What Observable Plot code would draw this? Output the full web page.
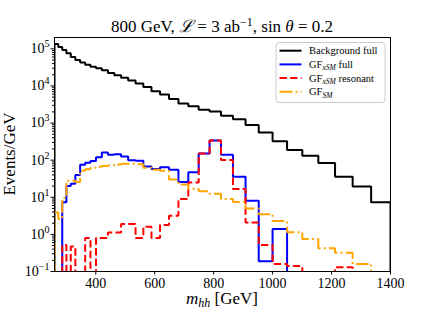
<!DOCTYPE html>
<html><head><meta charset="utf-8">
<script src="https://cdn.jsdelivr.net/npm/d3@7"></script>
<script src="https://cdn.jsdelivr.net/npm/@observablehq/plot@0.6"></script>
<style>
html,body{margin:0;padding:0;background:#fff;}
#chart svg{display:block;}
</style></head><body><div id="chart"></div>
<script>
// Bin edges of m_hh (GeV), 35 bins
const binEdges = [260, 272.8, 286.3, 300.4, 315.2, 330.7, 347.0, 364.1, 382.0, 400.9, 420.6, 441.4, 463.1, 485.9, 509.9, 535.0, 561.4, 589.0, 618.1, 648.5, 680.5, 714.0, 749.2, 786.1, 824.9, 865.5, 908.2, 952.9, 999.9, 1049.1, 1100.8, 1155.1, 1211.9, 1271.6, 1334.3, 1400];
// Events/GeV per bin
const background = [135000, 112000, 93000, 76000, 60000, 50000, 42700, 37200, 33100, 30200, 26300, 22400, 19500, 16600, 14100, 11700, 9300, 7200, 5900, 4470, 3390, 2820, 2290, 2050, 1580, 1260, 890, 560, 321, 188, 132, 84, 36, 19.6, 7.3];
const xsmFull = [0, 0, 7.3, 20, 23, 40, 75, 85, 95, 120, 160, 140, 145, 125, 100, 97, 68, 58, 64, 55, 26, 47, 151, 340, 141, 36, 8.1, 0.19, 1.4, 0, 0, 0, 0, 0, 0];
const xsmResonant = [0, 0, 0.52, 0, 0.47, 0, 0, 0.8, 0, 0.8, 0.8, 1.13, 1.13, 1.9, 1.9, 0.8, 1.6, 0.8, 1.8, 3.2, 9, 25, 151, 340, 101, 16.7, 2.1, 0.52, 0.16, 0.14, 0, 0, 0.13, 0, 0];
const smFull = [3.9, 2.6, 9.5, 28, 28, 26, 52, 57, 62, 66, 70, 73, 77, 80, 80, 78, 62, 55, 52, 30, 22, 17, 14.5, 12.5, 9, 7.5, 5, 3.5, 2.3, 1.15, 0.75, 0.42, 0.32, 0.16, 0];

const xTicks = [400, 600, 800, 1000, 1200, 1400];
const yTicks = [0.1, 1, 10, 100, 1000, 10000, 100000];
const yTickExponents = ["\u22121", "0", "1", "2", "3", "4", "5"];
const legendNames = ["Background full", "GF|xSM| full", "GF|xSM| resonant", "GF|SM|"];

const FONT = "Liberation Serif, DejaVu Serif, serif";
const FLOOR = 1e-4;

function stepPoints(vals) {
  const pts = [{x: binEdges[0], y: FLOOR}];
  vals.forEach((v, i) => pts.push({x: binEdges[i], y: v > 0 ? v : FLOOR}));
  pts.push({x: binEdges[binEdges.length - 1], y: FLOOR});
  return pts;
}

const minorYTicks = [];
for (let k = -1; k <= 5; k++) for (let m = 2; m <= 9; m++) { const v = m * Math.pow(10, k); if (v < 2.0e5) minorYTicks.push(v); }

const styles = [
  {stroke: "#000000", strokeWidth: 2, strokeLinecap: "square", strokeLinejoin: "miter"},
  {stroke: "#0000ff", strokeWidth: 2, strokeLinecap: "square", strokeLinejoin: "miter"},
  {stroke: "#ff0000", strokeWidth: 2, strokeDasharray: "7.4,3.2", strokeLinecap: "butt", strokeLinejoin: "miter"},
  {stroke: "#ffa500", strokeWidth: 2, strokeDasharray: "12.8,3.2,2,3.2", strokeLinecap: "butt", strokeLinejoin: "miter"}
];
const seriesList = [background, xsmFull, xsmResonant, smFull];

const svg = Plot.plot({
  width: 434, height: 310,
  marginLeft: 54, marginRight: 44, marginTop: 37, marginBottom: 39,
  style: {fontFamily: FONT, fontSize: "14px", color: "black", background: "white", overflow: "visible"},
  x: {domain: [260, 1400]},
  y: {type: "log", domain: [0.1, 2.02e5]},
  marks: [
    ...seriesList.map((s, i) => Plot.line(stepPoints(s), {x: "x", y: "y", curve: "step-after", clip: true, ...styles[i]})),
    Plot.axisX({ticks: xTicks, tickSize: 3.5, tickPadding: 3, tickFormat: d => String(d), label: null, fontSize: 14, fontFamily: FONT}),
    Plot.axisY({ticks: yTicks, tickSize: 3.5, tickFormat: () => "", label: null}),
    Plot.axisY({ticks: minorYTicks, tickSize: 2, tickFormat: () => "", label: null}),
    Plot.frame({stroke: "black", strokeWidth: 1})
  ]
});
document.getElementById("chart").appendChild(svg);

const root = d3.select(svg);
const ys = svg.scale("y");
const xs = svg.scale("x");

function addText(attrs) {
  const t = root.append("text").attr("font-family", FONT).attr("fill", "black");
  for (const k in attrs) t.attr(k, attrs[k]);
  return t;
}

// y tick labels 10^k
yTicks.forEach((v, i) => {
  const t = addText({x: 49.5, y: ys.apply(v), "text-anchor": "end", dy: "0.35em", "font-size": 14});
  t.append("tspan").text("10");
  t.append("tspan").attr("font-size", 10).attr("dy", "-0.6em").text(yTickExponents[i]);
});

const cx = (xs.apply(260) + xs.apply(1400)) / 2;

// title
{
  const t = addText({x: cx, y: 31.5, "text-anchor": "middle", "font-size": 17});
  t.append("tspan").text("800 GeV, ");
  t.append("tspan").attr("font-style", "italic").text("\u2112");
  t.append("tspan").text(" = 3 ab");
  t.append("tspan").attr("font-size", 12).attr("dy", -6).text("\u22121");
  t.append("tspan").attr("dy", 6).text(", sin ");
  t.append("tspan").attr("font-style", "italic").text("\u03b8");
  t.append("tspan").text(" = 0.2");
}

// x label
{
  const t = addText({x: cx, y: 304, "text-anchor": "middle", "font-size": 17});
  t.append("tspan").attr("font-style", "italic").text("m");
  t.append("tspan").attr("font-style", "italic").attr("font-size", 12).attr("dy", 3).text("hh");
  t.append("tspan").attr("dy", -3).text(" [GeV]");
}

// y label
{
  const cy = (ys.apply(0.1) + ys.apply(2.02e5)) / 2;
  addText({transform: `translate(15,${cy}) rotate(-90)`, "text-anchor": "middle", "font-size": 17}).text("Events/GeV");
}

// legend
{
  const g = root.append("g");
  g.append("rect").attr("x", 276).attr("y", 42.5).attr("width", 109).attr("height", 60).attr("rx", 3)
    .attr("fill", "white").attr("fill-opacity", 0.8).attr("stroke", "#cccccc").attr("stroke-width", 1);
  legendNames.forEach((name, i) => {
    const yy = 50.7 + i * 13.7;
    const st = styles[i];
    g.append("line").attr("x1", 279.5).attr("x2", 301.5).attr("y1", yy).attr("y2", yy)
      .attr("stroke", st.stroke).attr("stroke-width", st.strokeWidth)
      .attr("stroke-dasharray", st.strokeDasharray || null).attr("stroke-linecap", "butt");
    const t = g.append("text").attr("x", 309).attr("y", yy).attr("dy", "0.33em").attr("text-anchor", "start")
      .attr("font-family", FONT).attr("font-size", 10.5).attr("fill", "black");
    const parts = name.split("|");
    t.append("tspan").text(parts[0]);
    if (parts.length > 1) {
      t.append("tspan").attr("font-style", "italic").attr("font-size", 7.5).attr("dy", 2.5).text(parts[1]);
      if (parts[2]) t.append("tspan").attr("dy", -2.5).text(parts[2]);
    }
  });
}
</script></body></html>
